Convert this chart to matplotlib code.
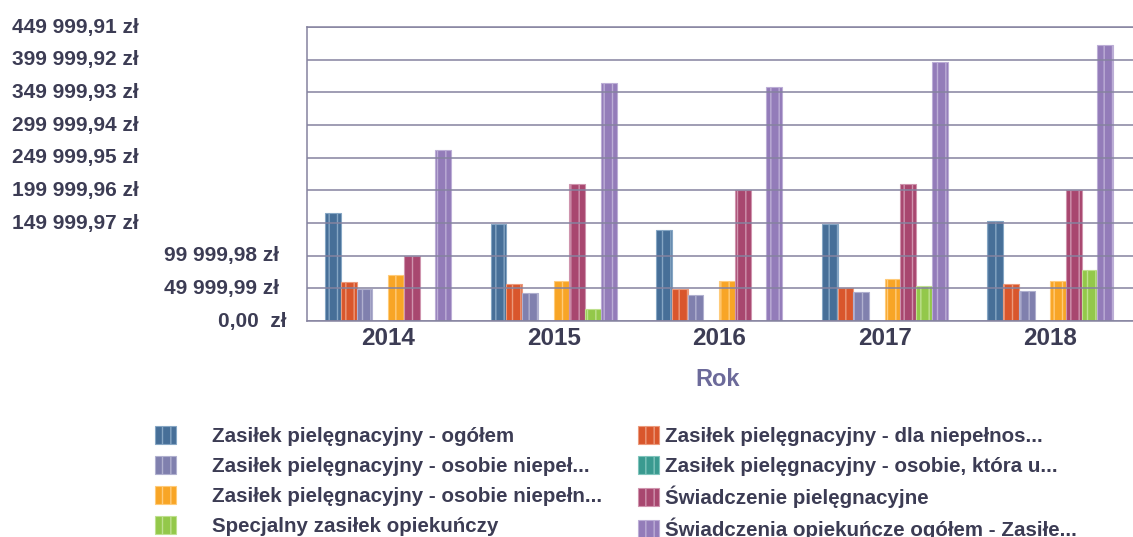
import numpy as np
import matplotlib
matplotlib.use('Agg')
import matplotlib.pyplot as plt
from matplotlib.patches import Patch
from matplotlib.transforms import blended_transform_factory

plt.rcParams['font.family'] = ['Liberation Sans', 'DejaVu Sans']
plt.rcParams['font.weight'] = 'bold'
plt.rcParams['hatch.linewidth'] = 1.0

years = ['2014', '2015', '2016', '2017', '2018']

series_names = [
    'Zasiłek pielęgnacyjny - ogółem',
    'Zasiłek pielęgnacyjny - dla niepełnos...',
    'Zasiłek pielęgnacyjny - osobie niepeł...',
    'Zasiłek pielęgnacyjny - osobie, która u...',
    'Zasiłek pielęgnacyjny - osobie niepełn...',
    'Świadczenie pielęgnacyjne',
    'Specjalny zasiłek opiekuńczy',
    'Świadczenia opiekuńcze ogółem - Zasiłe...',
]

# kwoty w zł, kolejno dla lat 2014-2018
zp_ogolem = [165500, 148000, 140000, 148000, 153000]
zp_dla_niepelnosprawnych = [59000, 56000, 49500, 50000, 56000]
zp_osobie_niepel = [49000, 43000, 40000, 44000, 46000]
zp_osobie_ktora = [0, 0, 0, 0, 0]
zp_osobie_niepeln = [70000, 62000, 62000, 65000, 62000]
swiadczenie_piel = [100000, 209000, 200000, 209000, 200000]
specjalny_zasilek = [0, 18000, 0, 53000, 78000]
swiadczenia_ogolem = [261000, 364000, 358000, 397000, 422000]

values = [zp_ogolem, zp_dla_niepelnosprawnych, zp_osobie_niepel, zp_osobie_ktora,
          zp_osobie_niepeln, swiadczenie_piel, specjalny_zasilek, swiadczenia_ogolem]

colors = ['#476f98', '#d9562c', '#8080ae', '#3a9a90',
          '#f8a526', '#a8476f', '#93c84a', '#937cb9']
light_colors = ['#86a6c4', '#eb9a7c', '#b0b0cf', '#80c4bc',
                '#ffcb7a', '#cf94ae', '#bfe08f', '#bcaed6']

tick_values = [0, 49999.99, 99999.98, 149999.97, 199999.96,
               249999.95, 299999.94, 349999.93, 399999.92, 449999.91]
tick_labels = ['0,00  zł', '49 999,99 zł', '99 999,98 zł', '149 999,97 zł',
               '199 999,96 zł', '249 999,95 zł', '299 999,94 zł',
               '349 999,93 zł', '399 999,92 zł', '449 999,91 zł']

text_color = '#3c3c54'
grid_color = '#85839f'

fig = plt.figure(figsize=(11.33, 5.37), dpi=100)
ax = fig.add_axes([0.271, 0.4022, 0.729, 0.5475])

x = np.arange(len(years))
n = len(values)
width = 0.76 / n
for i, (vals, c, lc) in enumerate(zip(values, colors, light_colors)):
    offs = (i - (n - 1) / 2) * width
    ax.bar(x + offs, vals, width, color=c, edgecolor=lc, linewidth=0.8,
           hatch='||', zorder=2)

ax.set_xlim(-0.49, 4.5)
ax.set_ylim(0, tick_values[-1])
ax.set_xticks(x)
ax.set_xticklabels(years, fontsize=17.5, color=text_color, fontweight='bold')
ax.tick_params(axis='x', length=0, pad=4)

# linie siatki rysowane nad słupkami
ax.set_yticks(tick_values)
ax.set_yticklabels([])
ax.tick_params(axis='y', length=0)
ax.grid(axis='y', color=grid_color, linewidth=1.1, zorder=3)
ax.set_axisbelow(False)

ax.spines['right'].set_visible(False)
for side in ['left', 'bottom', 'top']:
    ax.spines[side].set_color(grid_color)
    ax.spines[side].set_linewidth(1.1)

# etykiety osi Y: dolne wyrównane do prawej, górne do lewej
tr = blended_transform_factory(fig.transFigure, ax.transData)
for k, (v, lab) in enumerate(zip(tick_values, tick_labels)):
    if k < 3:
        xpos = 287 / 1133 if k == 0 else 279 / 1133
        ax.text(xpos, v, lab, transform=tr, ha='right', va='center',
                fontsize=15, color=text_color, fontweight='bold', clip_on=False)
    else:
        ax.text(12 / 1133, v, lab, transform=tr, ha='left', va='center',
                fontsize=15, color=text_color, fontweight='bold', clip_on=False)

fig.text(718 / 1133, 1 - 380 / 537, 'Rok', ha='center', va='center',
         fontsize=17, color='#6c6a9a', fontweight='bold')

handles = [Patch(facecolor=c, edgecolor=lc, hatch='||', linewidth=0.8)
           for c, lc in zip(colors, light_colors)]
left_idx = [0, 2, 4, 6]
right_idx = [1, 3, 5, 7]
leg_kw = dict(frameon=False, fontsize=14.8, labelspacing=0.47, borderpad=0,
              borderaxespad=0, handlelength=1.0, handleheight=1.0, labelcolor=text_color)
leg1 = fig.legend([handles[i] for i in left_idx], [series_names[i] for i in left_idx],
                  loc='upper left', bbox_to_anchor=(155 / 1133, 1 - 426 / 537),
                  handletextpad=1.75, **leg_kw)
leg2 = fig.legend([handles[i] for i in right_idx], [series_names[i] for i in right_idx],
                  loc='upper left', bbox_to_anchor=(638 / 1133, 1 - 426 / 537),
                  handletextpad=0.3, **leg_kw)

fig.savefig('out.png', dpi=100)
